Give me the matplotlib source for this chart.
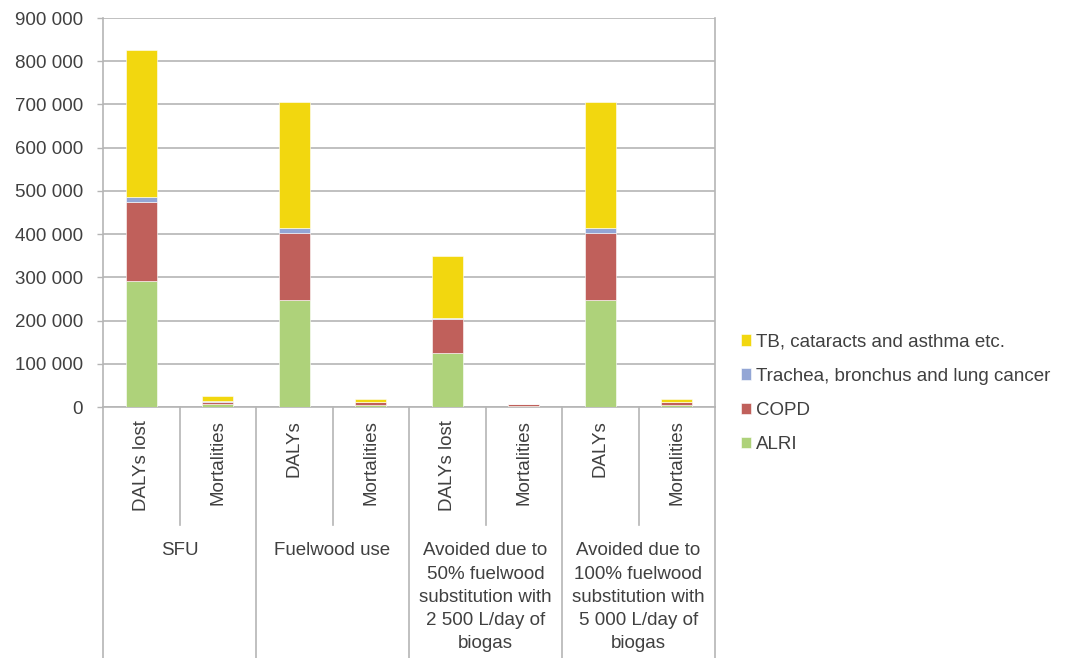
import matplotlib
matplotlib.use("Agg")
import matplotlib.pyplot as plt
import numpy as np
from matplotlib.ticker import FuncFormatter

plt.rcParams['font.family'] = ['Liberation Sans', 'DejaVu Sans']

# sub categories under each group
sub_labels = ["DALYs lost", "Mortalities", "DALYs", "Mortalities",
              "DALYs lost", "Mortalities", "DALYs", "Mortalities"]
group_labels = ["SFU", "Fuelwood use",
                "Avoided due to\n50% fuelwood\nsubstitution with\n2 500 L/day of\nbiogas",
                "Avoided due to\n100% fuelwood\nsubstitution with\n5 000 L/day of\nbiogas"]

alri = [292000, 7000, 248000, 4500, 124000, 2300, 248000, 4500]
copd = [183000, 5000, 155000, 7000, 80000, 3500, 155000, 7000]
trachea = [12000, 2000, 11000, 500, 2000, 300, 11000, 500]
tb = [338000, 12000, 292000, 6000, 144000, 1500, 292000, 6000]

series_names = ["ALRI", "COPD", "Trachea, bronchus and lung cancer",
                "TB, cataracts and asthma etc."]
colors = ["#aed27a", "#c0605b", "#93a6d5", "#f2d70f"]

text_col = "#404040"
grid_col = "#b5b5b5"
fs = 13.5

fig = plt.figure(figsize=(10.86, 6.58), dpi=100)
ax = fig.add_axes([103 / 1086, 1 - 407 / 658, 612 / 1086, 389 / 658])

x = np.arange(len(sub_labels))
bottom = np.zeros(len(sub_labels))
handles = []
for vals, name, col in zip([alri, copd, trachea, tb], series_names, colors):
    b = ax.bar(x, vals, width=0.4, bottom=bottom, color=col, label=name,
               edgecolor="white", linewidth=0.4, zorder=3)
    bottom += np.array(vals)
    handles.append(b)

ax.set_xlim(-0.5, len(sub_labels) - 0.5)
ax.set_ylim(0, 900000)
ax.set_yticks(np.arange(0, 900001, 100000))
ax.yaxis.set_major_formatter(
    FuncFormatter(lambda v, p: f"{int(v):,}".replace(",", " ")))
ax.tick_params(axis="y", labelsize=fs, colors=grid_col, labelcolor=text_col,
               length=4.5, width=1, direction="out", pad=10)
ax.set_xticks([])
ax.grid(axis="y", color=grid_col, linewidth=1.2, zorder=0)
ax.spines["top"].set_visible(False)
for s in ["left", "right", "bottom"]:
    ax.spines[s].set_color(grid_col)
    ax.spines[s].set_linewidth(1.2)

# multi-level category axis
trans = ax.get_xaxis_transform()
for i in range(len(sub_labels) + 1):
    xb = i - 0.5
    if i % 2 == 0:
        ax.plot([xb, xb], [0, -0.645], transform=trans, color=grid_col,
                lw=1.2, clip_on=False)
    else:
        ax.plot([xb, xb], [0, -0.303], transform=trans, color=grid_col,
                lw=1.2, clip_on=False)

for i, lab in enumerate(sub_labels):
    ax.text(i, -0.033, lab, transform=trans, rotation=90, ha="center",
            va="top", fontsize=fs, color=text_col)

for g, lab in enumerate(group_labels):
    ax.text(2 * g + 0.5, -0.348, lab, transform=trans, ha="center",
            va="top", fontsize=fs, color=text_col, linespacing=1.48,
            multialignment="center")

fig.legend(handles[::-1], series_names[::-1], loc="upper left",
           bbox_to_anchor=(733 / 1086, 1 - 326 / 658), frameon=False,
           fontsize=fs, handlelength=0.55, handleheight=0.55,
           handletextpad=0.3, labelspacing=0.92, labelcolor=text_col,
           borderaxespad=0)

fig.savefig("out.png", dpi=100)
